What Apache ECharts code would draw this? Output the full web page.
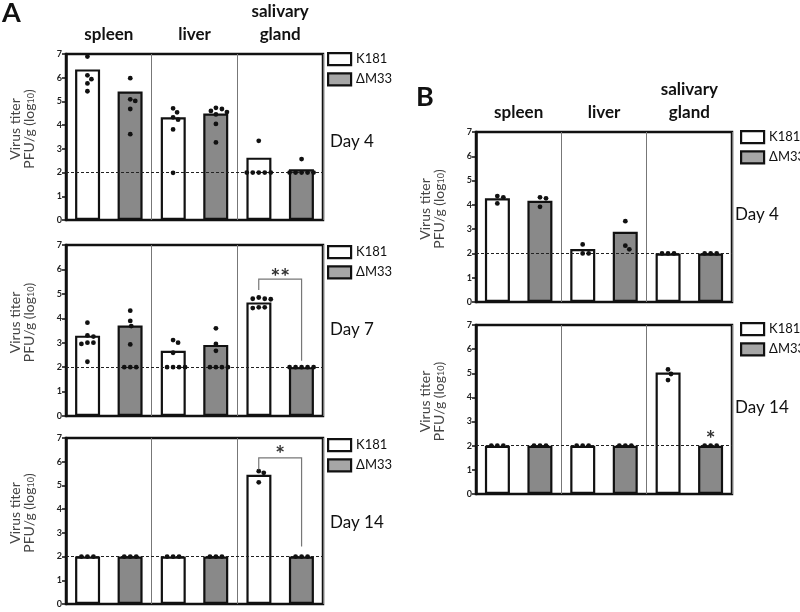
<!DOCTYPE html>
<html><head><meta charset="utf-8">
<script src="https://cdn.jsdelivr.net/npm/echarts@6/dist/echarts.min.js"></script>
<style>html,body{margin:0;padding:0;background:#fff}#c{width:800px;height:612px}</style>
</head><body><div id="c"></div>
<script>
// ---------- data ----------
const organs = ['spleen', 'liver', 'salivary\ngland'];
const strains = ['K181', 'ΔM33'];
const detectionLimit = 2;

// Panel A – Day 4
const A4_K181 = [6.35, 4.33, 2.63];
const A4_M33  = [5.42, 4.49, 2.14];
const A4_K181_pts = [[6.89, 6.10, 5.94, 5.76, 5.43], [4.71, 4.54, 4.33, 4.23, 3.82, 1.99], [3.34, 2, 2, 2, 2, 2]];
const A4_M33_pts  = [[5.98, 5.09, 5.02, 4.68, 3.62], [4.73, 4.68, 4.60, 4.55, 4.45, 4.05, 3.27], [2.57, 2, 2, 2, 2, 2]];
// Panel A – Day 7
const A7_K181 = [3.29, 2.67, 4.65];
const A7_M33  = [3.70, 2.91, 2.00];
const A7_K181_pts = [[3.82, 3.30, 3.25, 3.00, 3.00, 2.95, 2.22], [3.11, 3.00, 2.59, 2, 2, 2, 2], [4.85, 4.80, 4.80, 4.78, 4.45, 4.45, 4.42]];
const A7_M33_pts  = [[4.31, 3.89, 3.68, 2.93, 2, 2, 2], [3.59, 2.95, 2.67, 2, 2, 2, 2], [2, 2, 2, 2, 2]];
// Panel A – Day 14
const A14_K181 = [2, 2, 5.45];
const A14_M33  = [2, 2, 2];
const A14_K181_pts = [[2, 2, 2], [2, 2, 2], [5.60, 5.53, 5.13]];
const A14_M33_pts  = [[2, 2, 2], [2, 2, 2], [2, 2, 2]];
// Panel B – Day 4
const B4_K181 = [4.27, 2.18, 2.00];
const B4_M33  = [4.17, 2.89, 2.00];
const B4_K181_pts = [[4.36, 4.31, 4.06], [2.37, 2, 2], [2, 2, 2]];
const B4_M33_pts  = [[4.31, 4.27, 3.92], [3.33, 2.32, 2.17], [2, 2, 2]];
// Panel B – Day 14
const B14_K181 = [2, 2, 5.03];
const B14_M33  = [2, 2, 2];
const B14_K181_pts = [[2, 2, 2], [2, 2, 2], [5.16, 4.97, 4.72]];
const B14_M33_pts  = [[2, 2, 2], [2, 2, 2], [2, 2, 2]];

// significance annotations (organ index, left foot, right foot, top, label)
const A7_sig  = {cat: 2, left: 5.16, right: 2.26, top: 5.6, label: '**'};
const A14_sig = {cat: 2, left: 5.67, right: 2.42, top: 6.16, label: '*'};
const B14_sig = {cat: 2, label: '*'};

// ---------- layout ----------
const FONT = 'Lato, "Open Sans", sans-serif';
const panels = [
  {day: 'Day 4',  k: A4_K181,  m: A4_M33,  kp: A4_K181_pts,  mp: A4_M33_pts,  grid: {left: 66, top: 49, width: 257, height: 171}, legend: [327, 52], dayPos: [330, 142], header: true},
  {day: 'Day 7',  k: A7_K181,  m: A7_M33,  kp: A7_K181_pts,  mp: A7_M33_pts,  grid: {left: 66, top: 245, width: 257, height: 171}, legend: [327, 245], dayPos: [330, 330], sig: A7_sig, starDy: 10},
  {day: 'Day 14', k: A14_K181, m: A14_M33, kp: A14_K181_pts, mp: A14_M33_pts, grid: {left: 66, top: 438, width: 257, height: 166}, legend: [327, 438], dayPos: [330, 523], sig: A14_sig, starDy: 8},
  {day: 'Day 4',  k: B4_K181,  m: B4_M33,  kp: B4_K181_pts,  mp: B4_M33_pts,  grid: {left: 476, top: 132, width: 256, height: 170}, legend: [740, 130], dayPos: [735, 215], header: true},
  {day: 'Day 14', k: B14_K181, m: B14_M33, kp: B14_K181_pts, mp: B14_M33_pts, grid: {left: 476, top: 325, width: 256, height: 169}, legend: [740, 322], dayPos: [735, 408], star: B14_sig, starDy: 5}
];

// simple beeswarm: horizontal pixel offsets so dots don't overlap
function swarm(vals, pxPerUnit) {
  const D = 5.2, placed = [], out = [];
  vals.forEach(v => {
    const y = v * pxPerUnit;
    let o = 0;
    for (let s = 0; s < 60; s++) {
      const cand = (s % 2 ? 1 : -1) * Math.ceil(s / 2);
      if (placed.every(p => Math.hypot(p[0] - cand, p[1] - y) >= D)) { o = cand; break; }
    }
    placed.push([o, y]); out.push(o);
  });
  return out;
}

const grids = [], xAxes = [], yAxes = [], series = [], legends = [], graphics = [];
const SIDE = 0.25;

panels.forEach((p, i) => {
  grids.push(Object.assign({show: true, borderColor: '#111', borderWidth: 2.5, backgroundColor: 'transparent'}, p.grid));
  xAxes.push({
    type: 'category', gridIndex: i, data: organs, position: 'top',
    axisLine: {show: false}, axisTick: {show: false},
    axisLabel: {show: !!p.header, fontSize: 17, fontWeight: 'bold', color: '#111', lineHeight: 23, margin: 8, fontFamily: FONT},
    splitLine: {show: true, lineStyle: {color: '#777', width: 1}}
  });
  yAxes.push({
    type: 'value', gridIndex: i, min: 0, max: 7, interval: 1,
    axisLine: {show: true, lineStyle: {color: '#111', width: 2.5}},
    axisTick: {show: true, length: 4, lineStyle: {color: '#111', width: 1.5}},
    axisLabel: {fontSize: 9, fontWeight: 'bold', color: '#222', margin: 4, fontFamily: FONT},
    splitLine: {show: false},
    name: '{a|Virus titer}\n{a|PFU/g (log}{s|10}{a|)}',
    nameLocation: 'middle', nameRotate: 90, nameGap: 30,
    nameTextStyle: {fontFamily: FONT, color: '#444', lineHeight: 14, padding: [0, 0, 0, 16],
      rich: {a: {fontSize: 14, color: '#444', fontFamily: FONT, lineHeight: 14},
             s: {fontSize: 9, color: '#444', fontFamily: FONT, verticalAlign: 'bottom', lineHeight: 14}}}
  });
  const barBase = {type: 'bar', xAxisIndex: i, yAxisIndex: i, barWidth: 25, barGap: '70%'};
  series.push(Object.assign({}, barBase, {name: strains[0], data: p.k, itemStyle: {color: '#fff', borderColor: '#111', borderWidth: 2.2},
    markLine: {silent: true, symbol: 'none', label: {show: false}, z: 4,
      lineStyle: {color: '#222', width: 1, type: [3, 2]}, data: [{yAxis: detectionLimit}]}}));
  series.push(Object.assign({}, barBase, {name: strains[1], data: p.m, itemStyle: {color: '#898989', borderColor: '#111', borderWidth: 2.2}}));

  const ppu = p.grid.height / 7, bw = p.grid.width / 3;
  const dots = [];
  [[p.kp, -SIDE], [p.mp, SIDE]].forEach(([groups, side]) => {
    groups.forEach((vals, cat) => {
      const offs = swarm(vals, ppu);
      vals.forEach((v, j) => dots.push([cat, v, side + offs[j] / bw]));
    });
  });
  series.push({type: 'custom', xAxisIndex: i, yAxisIndex: i, data: dots, z: 6, silent: true,
    renderItem: (params, api) => {
      const c = api.coord([api.value(0), api.value(1)]);
      const w = api.size([1, 0])[0];
      return {type: 'circle', shape: {cx: c[0] + api.value(2) * w, cy: c[1], r: 2.4}, style: {fill: '#111'}};
    }});

  if (p.sig) {
    const s = p.sig, dy = p.starDy;
    series.push({type: 'custom', xAxisIndex: i, yAxisIndex: i, z: 7, silent: true,
      data: [[s.cat, s.left, s.right, s.top]],
      renderItem: (params, api) => {
        const w = api.size([1, 0])[0];
        const cx = api.coord([api.value(0), 0])[0];
        const xl = cx - SIDE * w, xr = cx + SIDE * w;
        const yl = api.coord([api.value(0), api.value(1)])[1];
        const yr = api.coord([api.value(0), api.value(2)])[1];
        const yt = api.coord([api.value(0), api.value(3)])[1];
        return {type: 'group', children: [
          {type: 'polyline', shape: {points: [[xl, yl], [xl, yt], [xr, yt], [xr, yr]]}, style: {stroke: '#777', lineWidth: 1.2, fill: null}},
          {type: 'text', style: {text: s.label, x: (xl + xr) / 2, y: yt + dy, align: 'center', verticalAlign: 'bottom', font: 'bold 23px ' + FONT, fill: '#333'}}
        ]};
      }});
  }
  if (p.star) {
    const s = p.star, dy = p.starDy;
    series.push({type: 'custom', xAxisIndex: i, yAxisIndex: i, z: 7, silent: true,
      data: [[s.cat, detectionLimit]],
      renderItem: (params, api) => {
        const w = api.size([1, 0])[0];
        const c = api.coord([api.value(0), api.value(1)]);
        return {type: 'text', style: {text: s.label, x: c[0] + SIDE * w, y: c[1] + dy, align: 'center', verticalAlign: 'bottom', font: 'bold 23px ' + FONT, fill: '#333'}};
      }});
  }

  legends.push({orient: 'vertical', left: p.legend[0], top: p.legend[1], padding: 0, itemGap: 6,
    itemWidth: 23, itemHeight: 12, icon: 'rect', selectedMode: false,
    textStyle: {fontSize: 13, color: '#111', fontFamily: FONT},
    data: [{name: strains[0], itemStyle: {color: '#fff', borderColor: '#111', borderWidth: 2.2}},
           {name: strains[1], itemStyle: {color: '#a6a6a6', borderColor: '#111', borderWidth: 2.2}}]});

  graphics.push({type: 'text', x: p.dayPos[0], y: p.dayPos[1],
    style: {text: p.day, font: '17px ' + FONT, fill: '#111', verticalAlign: 'middle'}});
});

graphics.push({type: 'text', x: 2, y: 0, style: {text: 'A', font: 'bold 27px ' + FONT, fill: '#111'}});
graphics.push({type: 'text', x: 416, y: 84, style: {text: 'B', font: 'bold 27px ' + FONT, fill: '#111'}});

const chart = echarts.init(document.getElementById('c'), null, {renderer: 'canvas'});
chart.setOption({
  animation: false,
  backgroundColor: '#fff',
  textStyle: {fontFamily: FONT},
  grid: grids, xAxis: xAxes, yAxis: yAxes, series: series, legend: legends, graphic: graphics
});
</script>
</body></html>
